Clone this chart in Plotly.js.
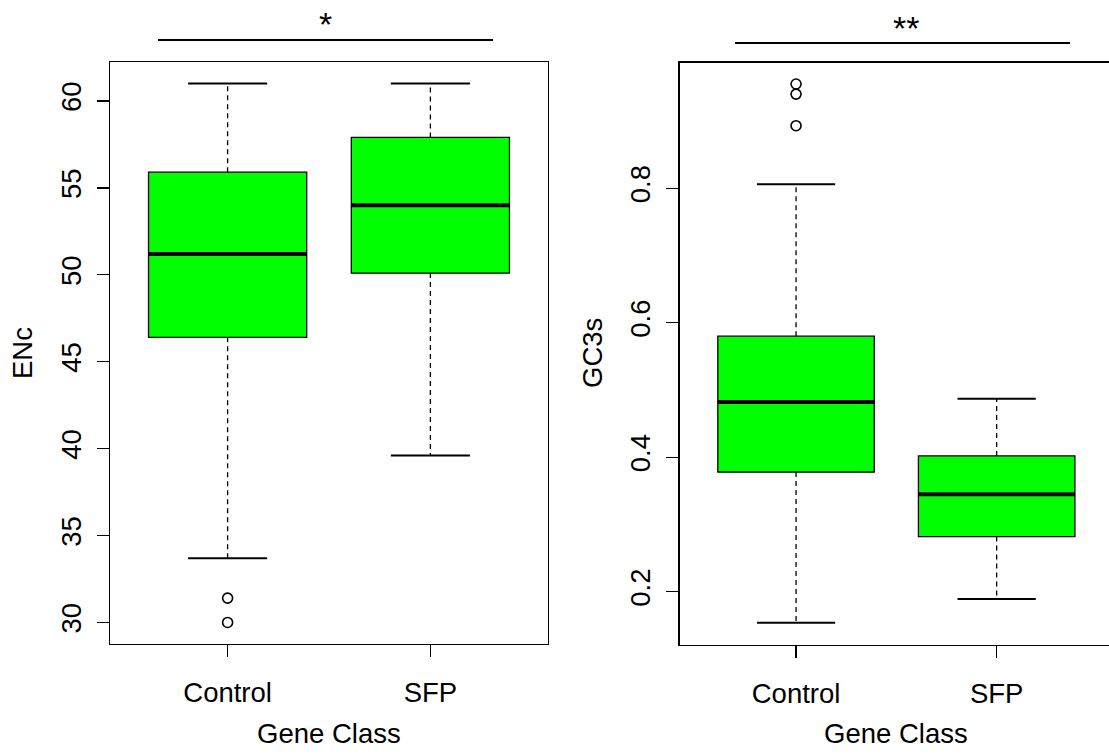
<!DOCTYPE html>
<html>
<head>
<meta charset="utf-8">
<script src="https://cdn.plot.ly/plotly-3.0.1.min.js"></script>
<style>html,body{margin:0;padding:0;background:#fff;}#chart{width:1109px;height:754px;}</style>
</head>
<body>
<div id="chart"></div>
<script>
// ---- data ----
const categories = ["Control", "SFP"];
// ENc panel
const encLowerWhisker = [33.7, 39.6];
const encQ1 = [46.4, 50.1];
const encMedian = [51.2, 54.0];
const encQ3 = [55.9, 57.9];
const encUpperWhisker = [61.0, 61.0];
const encOutliersControl = [31.4, 30.0];
const encOutliersSFP = [];
// GC3s panel
const gcLowerWhisker = [0.154, 0.189];
const gcQ1 = [0.378, 0.282];
const gcMedian = [0.482, 0.345];
const gcQ3 = [0.580, 0.402];
const gcUpperWhisker = [0.806, 0.487];
const gcOutliersControl = [0.955, 0.940, 0.893];
const gcOutliersSFP = [];
const encTicks = [30, 35, 40, 45, 50, 55, 60];
const gcTicks = [0.2, 0.4, 0.6, 0.8];

// ---- styling constants ----
const W = 1109, H = 754;
const FONT = "Liberation Sans, Arial, sans-serif";
const FS = 27.5;
const GREEN = "#00FF00";
const BOXW = 0.78;      // box width (data units)
const CAPW = 0.39;      // whisker cap width (data units)
const pos = categories.map((c, i) => i + 1);

function panelTraces(lw, q1, med, q3, uw, outs, xa, ya) {
  const tr = [];
  tr.push({
    type: "box", x: pos, q1: q1, median: med, q3: q3,
    lowerfence: q1, upperfence: q3, width: BOXW,
    fillcolor: GREEN, line: {color: "#000", width: 1.3},
    whiskerwidth: 0, boxpoints: false, hoverinfo: "skip",
    xaxis: xa, yaxis: ya, showlegend: false
  });
  pos.forEach((p, i) => {
    tr.push({type: "scatter", mode: "lines", x: [p, p], y: [q3[i], uw[i]],
      line: {color: "#000", width: 1.3, dash: "5px,4px"}, xaxis: xa, yaxis: ya, showlegend: false, hoverinfo: "skip"});
    tr.push({type: "scatter", mode: "lines", x: [p, p], y: [q1[i], lw[i]],
      line: {color: "#000", width: 1.3, dash: "5px,4px"}, xaxis: xa, yaxis: ya, showlegend: false, hoverinfo: "skip"});
    tr.push({type: "scatter", mode: "lines", x: [p - CAPW / 2, p + CAPW / 2], y: [uw[i], uw[i]],
      line: {color: "#000", width: 2}, xaxis: xa, yaxis: ya, showlegend: false, hoverinfo: "skip"});
    tr.push({type: "scatter", mode: "lines", x: [p - CAPW / 2, p + CAPW / 2], y: [lw[i], lw[i]],
      line: {color: "#000", width: 2}, xaxis: xa, yaxis: ya, showlegend: false, hoverinfo: "skip"});
    tr.push({type: "scatter", mode: "lines", x: [p - BOXW / 2, p + BOXW / 2], y: [med[i], med[i]],
      line: {color: "#000", width: 4}, xaxis: xa, yaxis: ya, showlegend: false, hoverinfo: "skip"});
    if (outs[i].length) {
      tr.push({type: "scatter", mode: "markers", x: outs[i].map(() => p), y: outs[i],
        marker: {symbol: "circle-open", size: 10, color: "#000", line: {width: 1.6, color: "#000"}},
        xaxis: xa, yaxis: ya, showlegend: false, hoverinfo: "skip"});
    }
  });
  return tr;
}

const traces = [].concat(
  panelTraces(encLowerWhisker, encQ1, encMedian, encQ3, encUpperWhisker, [encOutliersControl, encOutliersSFP], "x", "y"),
  panelTraces(gcLowerWhisker, gcQ1, gcMedian, gcQ3, gcUpperWhisker, [gcOutliersControl, gcOutliersSFP], "x2", "y2")
);

const px = v => v / W;
const py = v => 1 - v / H;

const axisCommon = {
  showgrid: false, zeroline: false, showline: true, linecolor: "#000", linewidth: 1.3,
  ticks: "outside", ticklen: 12, tickwidth: 1.3, tickcolor: "#000",
  tickfont: {family: FONT, size: FS, color: "#000"}
};

const layout = {
  width: W, height: H,
  margin: {l: 0, r: 0, t: 0, b: 0},
  paper_bgcolor: "#fff", plot_bgcolor: "#fff",
  showlegend: false,
  xaxis: Object.assign({}, axisCommon, {
    domain: [px(110), px(548)], range: [0.42, 2.58], mirror: true,
    tickvals: pos, ticktext: categories, ticklabelstandoff: 12, anchor: "y"
  }),
  yaxis: Object.assign({}, axisCommon, {
    domain: [py(644), py(62)], range: [28.76, 62.24], mirror: true,
    tickvals: encTicks, tickangle: -90, ticklabelstandoff: 5, anchor: "x"
  }),
  xaxis2: Object.assign({}, axisCommon, {
    domain: [px(679.7), 1], range: [0.42, 2.56], mirror: true,
    tickvals: pos, ticktext: categories, ticklabelstandoff: 12, anchor: "y2"
  }),
  yaxis2: Object.assign({}, axisCommon, {
    domain: [py(644.5), py(62.5)], range: [0.1215, 0.987], mirror: false,
    tickvals: gcTicks, tickformat: ".1f", tickangle: -90, ticklabelstandoff: 5, anchor: "x2"
  }),
  shapes: [
    {type: "line", xref: "paper", yref: "paper", x0: px(158), x1: px(493), y0: py(40), y1: py(40), line: {color: "#000", width: 2}},
    {type: "line", xref: "paper", yref: "paper", x0: px(735), x1: px(1070), y0: py(43), y1: py(43), line: {color: "#000", width: 2}}
  ],
  annotations: [
    {text: "*", xref: "paper", yref: "paper", x: px(325), y: py(24), xanchor: "center", yanchor: "middle", showarrow: false, font: {family: FONT, size: 34, color: "#000"}},
    {text: "**", xref: "paper", yref: "paper", x: px(906), y: py(28), xanchor: "center", yanchor: "middle", showarrow: false, font: {family: FONT, size: 34, color: "#000"}},
    {text: "ENc", xref: "paper", yref: "paper", x: px(22), y: py(353), textangle: -90, xanchor: "center", yanchor: "middle", showarrow: false, font: {family: FONT, size: FS, color: "#000"}},
    {text: "GC3s", xref: "paper", yref: "paper", x: px(592), y: py(353), textangle: -90, xanchor: "center", yanchor: "middle", showarrow: false, font: {family: FONT, size: FS, color: "#000"}},
    {text: "Gene Class", xref: "paper", yref: "paper", x: px(329), y: py(733), xanchor: "center", yanchor: "middle", showarrow: false, font: {family: FONT, size: FS, color: "#000"}},
    {text: "Gene Class", xref: "paper", yref: "paper", x: px(896), y: py(733), xanchor: "center", yanchor: "middle", showarrow: false, font: {family: FONT, size: FS, color: "#000"}}
  ]
};

Plotly.newPlot("chart", traces, layout, {displayModeBar: false, staticPlot: true});
</script>
</body>
</html>
